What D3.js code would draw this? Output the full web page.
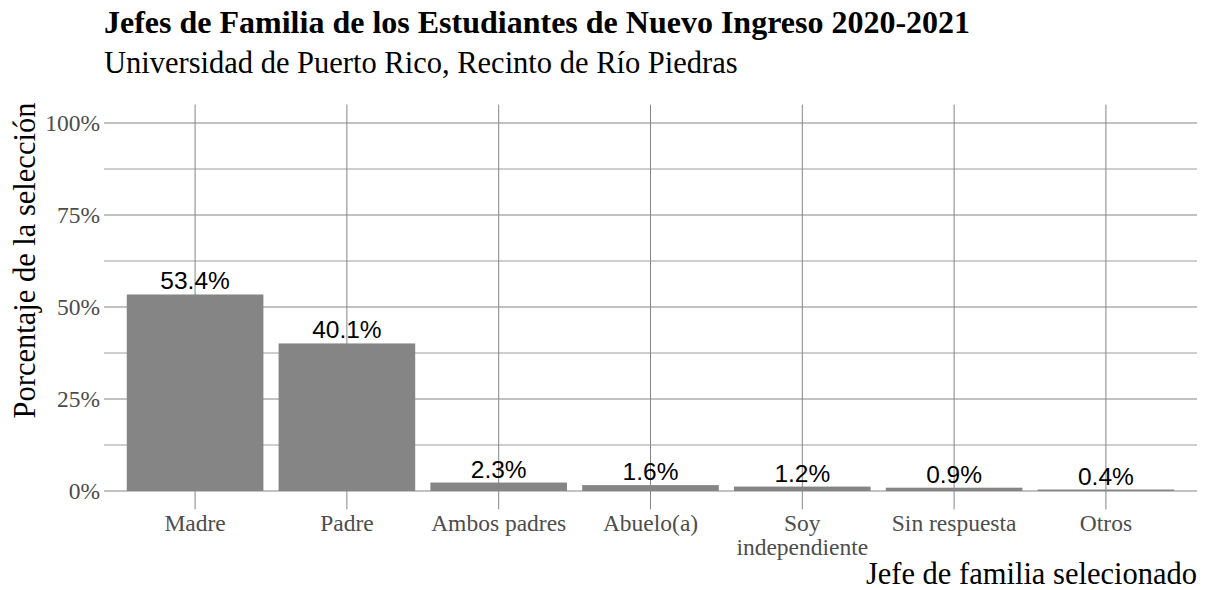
<!DOCTYPE html>
<html>
<head>
<meta charset="utf-8">
<script src="https://cdn.jsdelivr.net/npm/d3@7"></script>
<style>
  body { margin: 0; background: #fff; }
  .tick-label { font-family: "Liberation Serif", "Times New Roman", serif; fill: #4d4d4d; font-size: 23.5px; }
  .bar-label { font-family: "Liberation Sans", Arial, sans-serif; fill: #000; font-size: 24.5px; }
</style>
</head>
<body>
<svg id="chart"></svg>
<script>
// Chart data
const categories = ['Madre', 'Padre', 'Ambos padres', 'Abuelo(a)', 'Soy\nindependiente', 'Sin respuesta', 'Otros'];
const percents = [53.4, 40.1, 2.3, 1.6, 1.2, 0.9, 0.4];
const yTicks = [0, 25, 50, 75, 100];
const yMinorTicks = [12.5, 37.5, 62.5, 87.5];

const width = 1214, height = 590;
const margin = {top: 104.6, right: 17, bottom: 80.6, left: 104};
const innerW = width - margin.left - margin.right;
const innerH = height - margin.top - margin.bottom;

const svg = d3.select('#chart').attr('width', width).attr('height', height);
const g = svg.append('g').attr('transform', `translate(${margin.left},${margin.top})`);

// ggplot-like expansion: 5% on continuous, 0.6 units on discrete
const y = d3.scaleLinear().domain([-5, 105]).range([innerH, 0]);
const n = categories.length;
const step = innerW / (n - 1 + 1.2);
const xc = i => step * (0.6 + i);
const barW = step * 0.9;

const gridColor = '#858585';

// Gridlines
g.selectAll('.minor').data(yMinorTicks).join('line')
  .attr('x1', 0).attr('x2', innerW)
  .attr('y1', d => y(d)).attr('y2', d => y(d))
  .attr('stroke', gridColor).attr('stroke-width', 0.8);
g.selectAll('.major').data(yTicks).join('line')
  .attr('x1', 0).attr('x2', innerW)
  .attr('y1', d => y(d)).attr('y2', d => y(d))
  .attr('stroke', gridColor).attr('stroke-width', 1);
g.selectAll('.vgrid').data(categories).join('line')
  .attr('x1', (d, i) => xc(i)).attr('x2', (d, i) => xc(i))
  .attr('y1', 0).attr('y2', innerH)
  .attr('stroke', gridColor).attr('stroke-width', 1);

// Bars
g.selectAll('.bar').data(percents).join('rect')
  .attr('x', (d, i) => xc(i) - barW / 2)
  .attr('width', barW)
  .attr('y', d => y(d))
  .attr('height', d => y(0) - y(d))
  .attr('fill', '#858585');

// Bar labels
g.selectAll('.bar-label').data(percents).join('text')
  .attr('class', 'bar-label')
  .attr('x', (d, i) => xc(i))
  .attr('y', d => y(d) - 5)
  .attr('text-anchor', 'middle')
  .text(d => d.toFixed(1) + '%');

// Y tick labels
g.selectAll('.ytick').data(yTicks).join('text')
  .attr('class', 'tick-label')
  .attr('x', -4)
  .attr('y', d => y(d))
  .attr('dy', '0.35em')
  .attr('text-anchor', 'end')
  .text(d => d + '%');

// X tick labels
const xt = g.selectAll('.xtick').data(categories).join('text')
  .attr('class', 'tick-label')
  .attr('text-anchor', 'middle')
  .attr('transform', (d, i) => `translate(${xc(i)},${innerH + 22})`);
xt.selectAll('tspan').data(d => d.split('\n')).join('tspan')
  .attr('x', 0)
  .attr('dy', (d, i) => i === 0 ? 0 : 23.5)
  .text(d => d);

// Axis titles
svg.append('text')
  .attr('transform', `translate(35,${margin.top - 2}) rotate(-90)`)
  .attr('text-anchor', 'end')
  .style('font-family', '"Liberation Serif", serif')
  .style('font-size', '30.5px')
  .text('Porcentaje de la selección');

svg.append('text')
  .attr('x', margin.left + innerW)
  .attr('y', 584)
  .attr('text-anchor', 'end')
  .style('font-family', '"Liberation Serif", serif')
  .style('font-size', '30.5px')
  .text('Jefe de familia selecionado');

// Title and subtitle
svg.append('text')
  .attr('x', 104).attr('y', 33)
  .style('font-family', '"Liberation Serif", serif')
  .style('font-weight', 'bold')
  .style('font-size', '32px')
  .text('Jefes de Familia de los Estudiantes de Nuevo Ingreso 2020-2021');

svg.append('text')
  .attr('x', 104).attr('y', 73)
  .style('font-family', '"Liberation Serif", serif')
  .style('font-size', '30.5px')
  .text('Universidad de Puerto Rico, Recinto de Río Piedras');
</script>
</body>
</html>
